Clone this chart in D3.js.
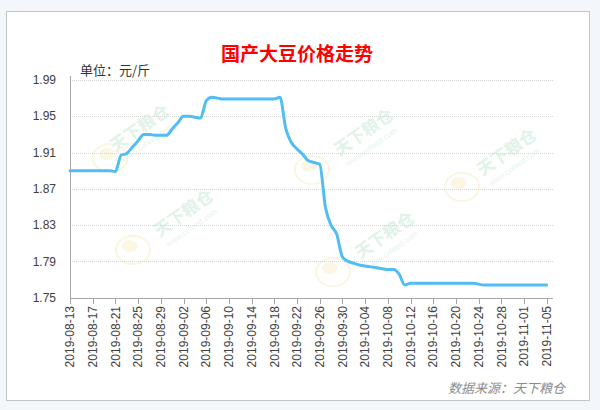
<!DOCTYPE html>
<html><head><meta charset="utf-8">
<script src="https://cdn.jsdelivr.net/npm/d3@7"></script>
<style>
html,body{margin:0;padding:0;background:#f3f6fb;}
svg{display:block;}
</style></head>
<body>
<svg id="chart" width="600" height="410"></svg>
<script>
// ---- data ----
const dates = [
 "2019-08-13","2019-08-20","2019-08-21","2019-08-22","2019-08-23","2019-08-24","2019-08-25","2019-08-26",
 "2019-08-27","2019-08-28","2019-08-29","2019-08-30","2019-08-31","2019-09-01","2019-09-02","2019-09-03",
 "2019-09-04","2019-09-05","2019-09-06","2019-09-07","2019-09-08","2019-09-09","2019-09-18","2019-09-19",
 "2019-09-20","2019-09-21","2019-09-22","2019-09-23","2019-09-24","2019-09-25","2019-09-26","2019-09-27",
 "2019-09-28","2019-09-29","2019-09-30","2019-10-01","2019-10-02","2019-10-03","2019-10-04","2019-10-05",
 "2019-10-06","2019-10-07","2019-10-08","2019-10-09","2019-10-10","2019-10-11","2019-10-12","2019-10-23",
 "2019-10-25","2019-11-05"
];
const prices = [
 1.890,1.890,1.889,1.907,1.909,1.916,1.923,1.930,
 1.930,1.929,1.929,1.929,1.936,1.943,1.950,1.950,
 1.949,1.948,1.967,1.971,1.970,1.969,1.969,1.971,
 1.937,1.921,1.914,1.908,1.901,1.899,1.897,1.850,
 1.830,1.820,1.795,1.790,1.788,1.786,1.785,1.784,
 1.783,1.782,1.781,1.781,1.776,1.764,1.766,1.766,
 1.764,1.764
];
const yTicks = [1.75,1.79,1.83,1.87,1.91,1.95,1.99];
const xTickLabels = [
 "2019-08-13","2019-08-17","2019-08-21","2019-08-25","2019-08-29","2019-09-02","2019-09-06","2019-09-10",
 "2019-09-14","2019-09-18","2019-09-22","2019-09-26","2019-09-30","2019-10-04","2019-10-08","2019-10-12",
 "2019-10-16","2019-10-20","2019-10-24","2019-10-28","2019-11-01","2019-11-05"
];
const titleText = "国产大豆价格走势";
const unitText = "单位：元/斤";
const sourceText = "数据来源：天下粮仓";
const watermarkText = "天下粮仓";
const watermarkUrl = "www.cofeed.com";

// ---- drawing ----
const parse = d3.timeParse("%Y-%m-%d");
const svg = d3.select("#chart");

svg.append("rect").attr("x",6.5).attr("y",11.5).attr("width",583).attr("height",389)
  .attr("fill","#fff").attr("stroke","#c4c4c4");

const x = d3.scaleTime().domain([parse("2019-08-13"), parse("2019-11-05")]).range([70, 546.7]);
const y = d3.scaleLinear().domain([1.75, 1.99]).range([297.7, 80]);
const xEnd = 553;

// watermarks
const wm = [[143,133,110,158],[187,218,133,250],[367,137,312,170],[510,157,462,187],[388,240,333,272]];
const wmg = svg.append("g").attr("class","watermarks");
wm.forEach(([tx,ty,lx,ly])=>{
  wmg.append("ellipse").attr("cx",lx).attr("cy",ly).attr("rx",17).attr("ry",14)
    .attr("fill","none").attr("stroke","#fbf6e2").attr("stroke-width",2);
  wmg.append("ellipse").attr("cx",lx-3).attr("cy",ly-4).attr("rx",8).attr("ry",6)
    .attr("fill","#fcf7e4");
  wmg.append("text").attr("transform",`translate(${tx},${ty}) rotate(-35)`)
    .attr("text-anchor","middle").attr("font-family","Noto Sans CJK SC").attr("font-weight","bold")
    .attr("font-size",17).attr("fill","#e1f3e8").text(watermarkText);
  wmg.append("text").attr("transform",`translate(${tx+6},${ty+12}) rotate(-35)`)
    .attr("text-anchor","middle").attr("font-family","Liberation Sans")
    .attr("font-size",8).attr("fill","#e6f5ec").text(watermarkUrl);
});

// gridlines
svg.append("g").selectAll("line").data(yTicks.filter(d=>d>1.75)).join("line")
  .attr("x1",70).attr("x2",xEnd).attr("y1",d=>Math.round(y(d))+0.5).attr("y2",d=>Math.round(y(d))+0.5)
  .attr("stroke","#d6d6d6").attr("stroke-dasharray","1,1");

// y axis
const yAxis = svg.append("g");
yAxis.append("line").attr("x1",70.5).attr("x2",70.5).attr("y1",76).attr("y2",298).attr("stroke","#a6a6a6");
yAxis.selectAll("text").data(yTicks).join("text")
  .attr("x",56).attr("y",d=>y(d)).attr("dy","0.35em").attr("text-anchor","end")
  .attr("font-family","Liberation Sans, Arial").attr("font-size",12).attr("fill","#404040")
  .text(d=>d3.format(".2f")(d));

// x axis
const xAxis = svg.append("g");
xAxis.append("line").attr("x1",70).attr("x2",xEnd).attr("y1",298.5).attr("y2",298.5).attr("stroke","#a6a6a6");
xAxis.selectAll("line.tick").data(xTickLabels).join("line").attr("class","tick")
  .attr("x1",d=>Math.round(x(parse(d)))+0.5).attr("x2",d=>Math.round(x(parse(d)))+0.5)
  .attr("y1",298).attr("y2",304).attr("stroke","#a6a6a6");
xAxis.selectAll("text").data(xTickLabels).join("text")
  .attr("transform",d=>`translate(${x(parse(d))},306) rotate(-90)`)
  .attr("dy","0.35em").attr("text-anchor","end")
  .attr("font-family","Liberation Sans, Arial").attr("font-size",12).attr("fill","#404040")
  .text(d=>d);

// line
const data = dates.map((d,i)=>({date:parse(d), v:prices[i]}));
svg.append("path").datum(data)
  .attr("d", d3.line().x(d=>x(d.date)).y(d=>y(d.v)).curve(d3.curveMonotoneX))
  .attr("fill","none").attr("stroke","#52bdf3").attr("stroke-width",3).attr("stroke-linejoin","round").attr("stroke-linecap","round");

// texts
svg.append("text").attr("x",297).attr("y",61).attr("text-anchor","middle")
  .attr("font-family","Noto Sans CJK SC").attr("font-weight","bold").attr("font-size",19)
  .attr("fill","#ff0000").text(titleText);
svg.append("text").attr("x",80).attr("y",75)
  .attr("font-family","Noto Sans CJK SC").attr("font-size",13).attr("fill","#333").text(unitText);
svg.append("text").attr("x",565).attr("y",393).attr("text-anchor","end")
  .attr("font-family","Noto Sans CJK SC").attr("font-style","italic").attr("font-size",13)
  .attr("fill","#8c8c8c").text(sourceText);
</script>
</body></html>
